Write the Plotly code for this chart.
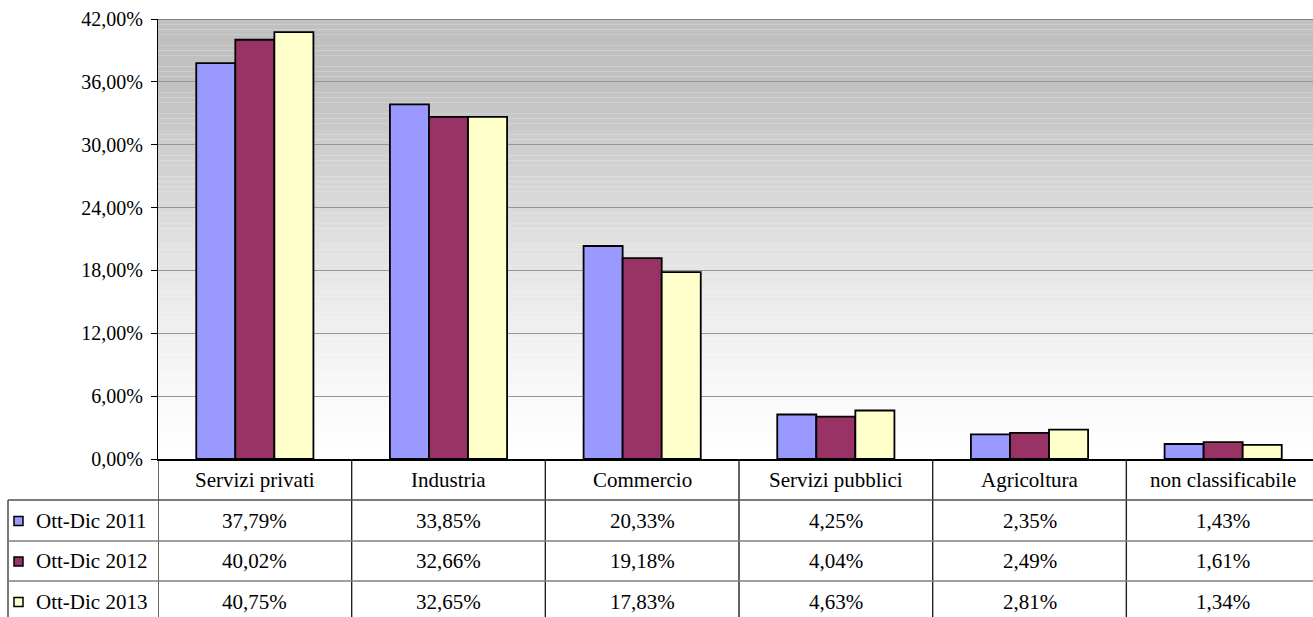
import plotly.graph_objects as go

# ---------------- data ----------------
categories = ["Servizi privati", "Industria", "Commercio", "Servizi pubblici",
              "Agricoltura", "non classificabile"]
series_names = ["Ott-Dic 2011", "Ott-Dic 2012", "Ott-Dic 2013"]
values_2011 = [37.79, 33.85, 20.33, 4.25, 2.35, 1.43]
values_2012 = [40.02, 32.66, 19.18, 4.04, 2.49, 1.61]
values_2013 = [40.75, 32.65, 17.83, 4.63, 2.81, 1.34]
y_tick_values = [0, 6, 12, 18, 24, 30, 36, 42]
y_tick_labels = ["0,00%", "6,00%", "12,00%", "18,00%", "24,00%", "30,00%", "36,00%", "42,00%"]

series_values = [values_2011, values_2012, values_2013]
series_colors = ["#9999ff", "#993366", "#ffffcc"]

# ---------------- layout geometry (pixels) ----------------
W, H = 1313, 617
plot_left, plot_top, plot_bottom = 158, 19, 459
row_edges = [459, 500, 541, 581, 622]
table_left = 8
FONT = "Liberation Serif, DejaVu Serif, serif"
FS = 20      # axis tick labels
FS_T = 21    # table text


def py(p):
    return (H - p) / H


def px(p):
    return p / W


fig = go.Figure()
for name, vals, col in zip(series_names, series_values, series_colors):
    fig.add_trace(go.Bar(
        x=categories, y=vals, name=name,
        marker=dict(color=col, line=dict(color="black", width=1.8)),
        hoverinfo="skip",
    ))

shapes = []
# gradient background of plot area
ymax = y_tick_values[-1]
step = 0.5
n = int(ymax / step)
for i in range(n):
    v0 = i * step
    vm = v0 + step / 2
    t = min(vm / 36.0, 1.0)
    g = int(round(255 - 63 * (t ** 1.3)))
    shapes.append(dict(type="rect", xref="x domain", yref="y", x0=0, x1=1,
                       y0=v0, y1=v0 + step, layer="below",
                       fillcolor=f"rgb({g},{g},{g})", line=dict(width=0)))
# top border of plot area
shapes.append(dict(type="line", xref="x domain", yref="y", x0=0, x1=1,
                   y0=ymax, y1=ymax, line=dict(color="#808080", width=2)))

# table: vertical lines at category boundaries
for k in range(len(categories)):
    xb = k - 0.5
    shapes.append(dict(type="line", xref="x", yref="paper", x0=xb, x1=xb,
                       y0=0, y1=py(plot_bottom), line=dict(color="#202020", width=1.4)))
# left border of legend column
shapes.append(dict(type="line", xref="paper", yref="paper", x0=px(table_left), x1=px(table_left),
                   y0=0, y1=py(row_edges[1]), line=dict(color="#303030", width=1.3)))
# horizontal table lines
for j, yr in enumerate(row_edges[1:4]):
    shapes.append(dict(type="line", xref="paper", yref="paper", x0=px(table_left), x1=1,
                       y0=py(yr), y1=py(yr),
                       line=dict(color="#505050" if j == 0 else "#808080", width=1.3)))

annotations = []
# category row
cy = (row_edges[0] + row_edges[1]) / 2
for i, c in enumerate(categories):
    annotations.append(dict(xref="x", yref="paper", x=i, y=py(cy), text=c,
                            showarrow=False, xanchor="center", yanchor="middle",
                            font=dict(family=FONT, size=FS_T, color="black")))
# data rows
for r, (name, vals, col) in enumerate(zip(series_names, series_values, series_colors)):
    ry = (row_edges[r + 1] + row_edges[r + 2]) / 2
    for i, v in enumerate(vals):
        annotations.append(dict(xref="x", yref="paper", x=i, y=py(ry),
                                text=f"{v:.2f}".replace(".", ",") + "%",
                                showarrow=False, xanchor="center", yanchor="middle",
                                font=dict(family=FONT, size=FS_T, color="black")))
    annotations.append(dict(xref="paper", yref="paper", x=px(34), y=py(ry), text=name,
                            showarrow=False, xanchor="left", yanchor="middle",
                            font=dict(family=FONT, size=FS_T, color="black")))
    shapes.append(dict(type="rect", xref="paper", yref="paper",
                       x0=px(14), x1=px(23), y0=py(ry + 5), y1=py(ry - 4),
                       fillcolor=col, line=dict(color="black", width=1.5)))

fig.update_layout(
    width=W, height=H,
    margin=dict(l=0, r=0, t=0, b=0, pad=0, autoexpand=False),
    paper_bgcolor="white",
    plot_bgcolor="white",
    barmode="group",
    bargap=0.395,
    bargroupgap=0,
    showlegend=False,
    shapes=shapes,
    annotations=annotations,
    font=dict(family=FONT, size=FS, color="black"),
    xaxis=dict(
        domain=[px(plot_left), 1],
        range=[-0.5, len(categories) - 0.5 - 7 / 193.6],
        showticklabels=False, ticks="", automargin=False,
        showline=True, linecolor="black", linewidth=2,
        showgrid=False, zeroline=False, fixedrange=True,
    ),
    yaxis=dict(
        domain=[py(plot_bottom), py(plot_top)],
        range=[0, ymax], automargin=False,
        tickvals=y_tick_values, ticktext=y_tick_labels,
        ticks="outside", ticklen=6, tickcolor="black", tickwidth=1.3,
        showline=True, linecolor="black", linewidth=1.3,
        showgrid=True, gridcolor="#969696", gridwidth=1,
        zeroline=False, fixedrange=True,
        tickfont=dict(family=FONT, size=FS, color="black"),
        ticklabelstandoff=4,
    ),
)

fig.write_html(
    "out.html",
    config={"displayModeBar": False},
    post_script=(
        "document.documentElement.style.margin='0';"
        "document.body.style.margin='0';document.body.style.padding='0';"
        "document.body.style.overflow='hidden';"
    ),
)
